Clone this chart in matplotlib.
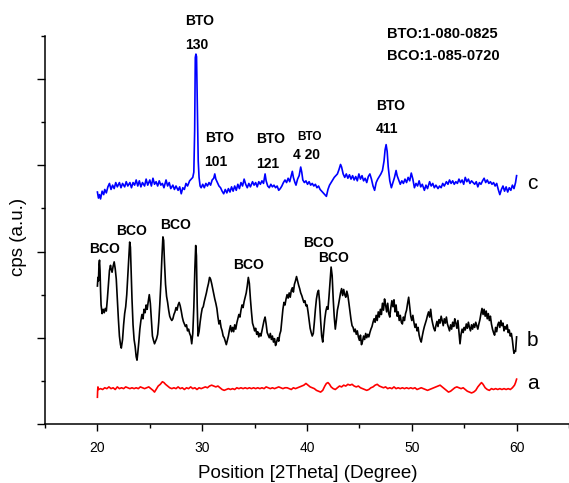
import matplotlib
matplotlib.use("Agg")
import matplotlib.pyplot as plt
from matplotlib.ticker import MultipleLocator

plt.rcParams['font.family'] = ['Liberation Sans', 'DejaVu Sans']

# curva c (azul) - amostra com BTO
theta_c = [20.0, 20.1, 20.2, 20.3, 20.45, 20.6, 20.7, 20.85, 21.0, 21.15, 21.3, 21.45, 21.6, 21.75, 21.9,
           22.1, 22.25, 22.4, 22.6, 22.75, 22.9, 23.1, 23.25, 23.4, 23.55, 23.7, 23.85, 24.0, 24.15, 24.3,
           24.5, 24.65, 24.8, 25.0, 25.15, 25.3, 25.45, 25.6, 25.75, 25.9, 26.05, 26.2, 26.35, 26.55, 26.7,
           26.85, 27.0, 27.2, 27.35, 27.5, 27.7, 27.85, 28.0, 28.15, 28.3, 28.45, 28.6, 28.8, 28.95, 29.1,
           29.2, 29.28, 29.34, 29.4, 29.46, 29.52, 29.56, 29.62, 29.7, 29.8, 29.9, 30.05, 30.2, 30.35, 30.5,
           30.65, 30.8, 30.95, 31.1, 31.2, 31.3, 31.45, 31.6, 31.75, 31.9, 32.05, 32.2, 32.35, 32.5, 32.65,
           32.8, 32.95, 33.1, 33.25, 33.4, 33.55, 33.7, 33.85, 34.0, 34.15, 34.3, 34.45, 34.6, 34.8, 34.95,
           35.1, 35.25, 35.4, 35.55, 35.7, 35.85, 36.0, 36.1, 36.25, 36.4, 36.55, 36.7, 36.85, 37.0, 37.15,
           37.3, 37.45, 37.6, 37.75, 37.9, 38.05, 38.2, 38.35, 38.5, 38.6, 38.7, 38.85, 38.95, 39.1, 39.25,
           39.4, 39.5, 39.6, 39.75, 39.9, 40.05, 40.2, 40.35, 40.5, 40.65, 40.8, 40.95, 41.1, 41.25, 41.4,
           41.55, 41.7, 41.85, 42.0, 42.15, 42.3, 42.45, 42.6, 42.75, 42.9, 43.05, 43.2, 43.3, 43.45, 43.6,
           43.75, 43.9, 44.05, 44.2, 44.35, 44.5, 44.65, 44.8, 44.95, 45.1, 45.25, 45.4, 45.55, 45.7, 45.85,
           46.0, 46.15, 46.3, 46.45, 46.6, 46.75, 46.9, 47.05, 47.2, 47.35, 47.45, 47.55, 47.65, 47.75, 47.9,
           48.05, 48.2, 48.35, 48.5, 48.6, 48.75, 48.9, 49.05, 49.2, 49.35, 49.5, 49.65, 49.8, 49.95, 50.1,
           50.25, 50.4, 50.55, 50.7, 50.85, 51.0, 51.2, 51.35, 51.5, 51.7, 51.85, 52.0, 52.15, 52.3, 52.5,
           52.65, 52.8, 52.95, 53.1, 53.3, 53.45, 53.6, 53.75, 53.9, 54.05, 54.2, 54.35, 54.5, 54.65, 54.8,
           54.95, 55.1, 55.25, 55.4, 55.55, 55.7, 55.85, 56.0, 56.15, 56.3, 56.45, 56.6, 56.75, 56.9, 57.05,
           57.2, 57.35, 57.5, 57.65, 57.8, 57.95, 58.1, 58.25, 58.4, 58.55, 58.7, 58.85, 59.0, 59.15, 59.3,
           59.45, 59.6, 59.75, 59.9, 60.0]
cps_c = [2.69, 2.62, 2.66, 2.61, 2.70, 2.66, 2.72, 2.68, 2.75, 2.79, 2.72, 2.77, 2.73, 2.80, 2.75,
         2.80, 2.74, 2.79, 2.75, 2.81, 2.76, 2.80, 2.74, 2.80, 2.77, 2.83, 2.76, 2.82, 2.75, 2.80,
         2.76, 2.84, 2.77, 2.83, 2.76, 2.85, 2.78, 2.81, 2.76, 2.82, 2.77, 2.79, 2.74, 2.83, 2.76,
         2.80, 2.73, 2.77, 2.72, 2.76, 2.71, 2.75, 2.67, 2.74, 2.72, 2.79, 2.76, 2.82, 2.84, 2.86,
         2.92, 3.40, 4.25, 4.29, 4.26, 3.80, 3.45, 3.05, 2.86, 2.76, 2.74, 2.78, 2.74, 2.79, 2.76,
         2.80, 2.77, 2.83, 2.85, 2.90, 2.84, 2.80, 2.76, 2.74, 2.70, 2.67, 2.72, 2.68, 2.73, 2.69,
         2.75, 2.70, 2.76, 2.71, 2.78, 2.73, 2.80, 2.76, 2.84, 2.78, 2.74, 2.79, 2.75, 2.81, 2.77,
         2.80, 2.75, 2.81, 2.78, 2.82, 2.79, 2.90, 2.82, 2.76, 2.74, 2.78, 2.75, 2.77, 2.74, 2.76,
         2.71, 2.73, 2.76, 2.80, 2.83, 2.80, 2.85, 2.81, 2.88, 2.93, 2.86, 2.80, 2.77, 2.84, 2.88,
         2.98, 2.92, 2.83, 2.80, 2.82, 2.78, 2.81, 2.77, 2.79, 2.76, 2.78, 2.74, 2.76, 2.72, 2.70,
         2.68, 2.66, 2.64, 2.72, 2.77, 2.80, 2.83, 2.86, 2.88, 2.90, 2.95, 3.01, 2.98, 2.90, 2.86,
         2.90, 2.85, 2.89, 2.84, 2.88, 2.83, 2.87, 2.82, 2.90, 2.84, 2.88, 2.82, 2.85, 2.80, 2.87,
         2.90, 2.84, 2.76, 2.71, 2.80, 2.84, 2.87, 2.90, 2.94, 3.05, 3.18, 3.24, 3.16, 2.98, 2.82,
         2.74, 2.80, 2.86, 2.94, 2.88, 2.83, 2.78, 2.82, 2.79, 2.84, 2.80, 2.86, 2.82, 2.91, 2.84,
         2.74, 2.79, 2.76, 2.82, 2.75, 2.78, 2.71, 2.77, 2.73, 2.81, 2.76, 2.79, 2.74, 2.77, 2.73,
         2.76, 2.74, 2.79, 2.76, 2.81, 2.78, 2.83, 2.79, 2.82, 2.78, 2.81, 2.79, 2.84, 2.80, 2.83,
         2.78, 2.86, 2.81, 2.84, 2.79, 2.82, 2.80, 2.78, 2.81, 2.75, 2.80, 2.78, 2.82, 2.85, 2.80,
         2.83, 2.79, 2.81, 2.78, 2.80, 2.76, 2.79, 2.72, 2.66, 2.72, 2.76, 2.70, 2.75, 2.69, 2.74,
         2.71, 2.77, 2.73, 2.80, 2.88]

# curva b (preta) - amostra com BCO
theta_b = [20.0, 20.05, 20.1, 20.15, 20.2, 20.25, 20.3, 20.35, 20.45, 20.55, 20.65, 20.75, 20.85, 20.95,
           21.05, 21.15, 21.25, 21.3, 21.4, 21.5, 21.6, 21.7, 21.8, 21.9, 22.0, 22.1, 22.2, 22.28, 22.4,
           22.5, 22.6, 22.7, 22.8, 22.9, 23.0, 23.08, 23.15, 23.22, 23.3, 23.4, 23.5, 23.6, 23.7, 23.78,
           23.85, 23.95, 24.05, 24.15, 24.25, 24.35, 24.45, 24.55, 24.65, 24.75, 24.85, 24.95, 25.05, 25.15,
           25.25, 25.35, 25.45, 25.55, 25.65, 25.75, 25.85, 25.95, 26.05, 26.15, 26.25, 26.32, 26.4, 26.5,
           26.6, 26.7, 26.8, 26.9, 27.0, 27.1, 27.2, 27.3, 27.4, 27.5, 27.6, 27.7, 27.8, 27.9, 28.0,
           28.1, 28.2, 28.3, 28.4, 28.5, 28.6, 28.7, 28.8, 28.9, 29.0, 29.1, 29.2, 29.3, 29.38, 29.45,
           29.52, 29.6, 29.7, 29.8, 29.9, 30.0, 30.1, 30.2, 30.3, 30.4, 30.5, 30.6, 30.7, 30.8, 30.9,
           31.0, 31.1, 31.2, 31.3, 31.4, 31.5, 31.6, 31.7, 31.8, 31.9, 32.0, 32.1, 32.2, 32.3, 32.4,
           32.5, 32.6, 32.7, 32.8, 32.9, 33.0, 33.1, 33.2, 33.3, 33.4, 33.5, 33.6, 33.7, 33.8, 33.9,
           34.0, 34.1, 34.2, 34.3, 34.4, 34.5, 34.6, 34.7, 34.8, 34.9, 35.0, 35.1, 35.2, 35.3, 35.4,
           35.5, 35.6, 35.7, 35.8, 35.9, 36.0, 36.1, 36.2, 36.3, 36.4, 36.5, 36.6, 36.7, 36.8, 36.9,
           37.0, 37.1, 37.2, 37.3, 37.4, 37.5, 37.6, 37.7, 37.8, 37.9, 38.0, 38.1, 38.2, 38.3, 38.4,
           38.5, 38.6, 38.7, 38.8, 38.9, 39.0, 39.1, 39.2, 39.3, 39.4, 39.5, 39.6, 39.7, 39.8, 39.9,
           40.0, 40.1, 40.2, 40.3, 40.4, 40.5, 40.6, 40.7, 40.8, 40.9, 41.0, 41.1, 41.2, 41.3, 41.4,
           41.5, 41.6, 41.7, 41.8, 41.9, 42.0, 42.1, 42.2, 42.3, 42.4, 42.5, 42.6, 42.7, 42.8, 42.9,
           43.0, 43.1, 43.2, 43.3, 43.4, 43.5, 43.6, 43.7, 43.8, 43.9, 44.0, 44.1, 44.2, 44.3, 44.4,
           44.5, 44.6, 44.7, 44.8, 44.9, 45.0, 45.1, 45.2, 45.3, 45.4, 45.5, 45.6, 45.7, 45.8, 45.9,
           46.0, 46.1, 46.2, 46.3, 46.4, 46.5, 46.6, 46.7, 46.8, 46.9, 47.0, 47.1, 47.2, 47.3, 47.4,
           47.5, 47.6, 47.7, 47.8, 47.9, 48.0, 48.1, 48.2, 48.3, 48.4, 48.5, 48.6, 48.7, 48.8, 48.9,
           49.0, 49.1, 49.2, 49.3, 49.4, 49.5, 49.6, 49.7, 49.8, 49.9, 50.0, 50.1, 50.2, 50.3, 50.4,
           50.5, 50.6, 50.7, 50.8, 50.9, 51.0, 51.1, 51.2, 51.3, 51.4, 51.5, 51.6, 51.7, 51.8, 51.9,
           52.0, 52.1, 52.2, 52.3, 52.4, 52.5, 52.6, 52.7, 52.8, 52.9, 53.0, 53.1, 53.2, 53.3, 53.4,
           53.5, 53.6, 53.7, 53.8, 53.9, 54.0, 54.1, 54.2, 54.3, 54.4, 54.5, 54.6, 54.7, 54.8, 54.9,
           55.0, 55.1, 55.2, 55.3, 55.4, 55.5, 55.6, 55.7, 55.8, 55.9, 56.0, 56.1, 56.2, 56.3, 56.4,
           56.5, 56.6, 56.7, 56.8, 56.9, 57.0, 57.1, 57.2, 57.3, 57.4, 57.5, 57.6, 57.7, 57.8, 57.9,
           58.0, 58.1, 58.2, 58.3, 58.4, 58.5, 58.6, 58.7, 58.8, 58.9, 59.0, 59.1, 59.2, 59.3, 59.4,
           59.5, 59.6, 59.7, 59.75, 59.8, 59.9, 60.0]
cps_b = [1.60, 1.70, 1.66, 1.85, 1.90, 1.78, 1.55, 1.38, 1.28, 1.33, 1.29, 1.34, 1.31, 1.45,
         1.62, 1.78, 1.84, 1.80, 1.76, 1.83, 1.88, 1.80, 1.68, 1.45, 1.22, 1.02, 0.92, 0.88, 0.98,
         1.15, 1.28, 1.36, 1.50, 1.72, 1.95, 2.11, 2.05, 1.78, 1.45, 1.15, 0.98, 0.90, 0.78, 0.74,
         0.82, 0.95, 1.10, 1.20, 1.27, 1.22, 1.33, 1.29, 1.38, 1.33, 1.42, 1.50, 1.40, 1.20,
         1.02, 0.97, 0.93, 0.96, 0.99, 1.04, 1.18, 1.38, 1.62, 1.92, 2.17, 2.13, 1.88, 1.62,
         1.48, 1.41, 1.32, 1.25, 1.22, 1.20, 1.22, 1.27, 1.30, 1.35, 1.32, 1.38, 1.41, 1.37, 1.31,
         1.24, 1.19, 1.16, 1.13, 1.15, 1.08, 1.10, 1.05, 1.02, 0.93, 1.05, 1.35, 1.80, 2.07, 1.95,
         1.40, 1.02, 1.07, 1.18, 1.27, 1.34, 1.36, 1.42, 1.47, 1.52, 1.58, 1.63, 1.70, 1.68, 1.63,
         1.57, 1.51, 1.45, 1.40, 1.34, 1.24, 1.16, 1.20, 1.12, 1.08, 1.02, 1.00, 0.96, 0.92, 0.97,
         1.02, 1.09, 1.14, 1.07, 1.12, 1.07, 1.15, 1.10, 1.17, 1.22, 1.27, 1.24, 1.32, 1.38, 1.35,
         1.42, 1.47, 1.52, 1.60, 1.70, 1.63, 1.45, 1.30, 1.17, 1.13, 1.08, 1.11, 1.04, 1.07, 1.01,
         1.05, 1.02, 1.08, 1.14, 1.20, 1.24, 1.16, 1.06, 1.03, 1.00, 1.05, 0.98, 1.02, 0.95, 0.99,
         0.91, 0.95, 1.00, 0.96, 1.04, 1.08, 1.20, 1.33, 1.41, 1.38, 1.45, 1.50, 1.46, 1.52, 1.47,
         1.55, 1.58, 1.53, 1.62, 1.66, 1.71, 1.66, 1.61, 1.57, 1.52, 1.49, 1.45, 1.41, 1.43, 1.37,
         1.38, 1.30, 1.20, 1.11, 1.06, 1.02, 1.05, 1.18, 1.33, 1.45, 1.52, 1.55, 1.42, 1.20, 1.02,
         0.95, 1.08, 1.22, 1.31, 1.36, 1.33, 1.48, 1.65, 1.82, 1.72, 1.45, 1.24, 1.10, 1.20, 1.32,
         1.38, 1.45, 1.52, 1.57, 1.49, 1.56, 1.50, 1.47, 1.54, 1.49, 1.40, 1.30, 1.21, 1.14, 1.12,
         1.07, 1.10, 1.04, 1.08, 1.01, 0.97, 1.03, 0.92, 0.96, 1.02, 0.98, 1.05, 1.00, 1.04, 1.01,
         1.06, 1.10, 1.13, 1.18, 1.22, 1.18, 1.26, 1.20, 1.30, 1.24, 1.33, 1.27, 1.40, 1.32, 1.45,
         1.38, 1.30, 1.40, 1.28, 1.24, 1.35, 1.43, 1.36, 1.44, 1.30, 1.38, 1.25, 1.30, 1.20, 1.26,
         1.18, 1.16, 1.24, 1.20, 1.28, 1.32, 1.40, 1.47, 1.36, 1.25, 1.20, 1.26, 1.18, 1.12, 1.16,
         1.08, 1.12, 1.03, 0.98, 0.95, 1.02, 1.08, 1.13, 1.17, 1.21, 1.26, 1.30, 1.24, 1.33, 1.22,
         1.16, 1.11, 1.08, 1.14, 1.19, 1.13, 1.21, 1.17, 1.25, 1.20, 1.14, 1.22, 1.17, 1.24, 1.16,
         1.12, 1.08, 1.15, 1.10, 1.18, 1.13, 1.22, 1.17, 1.11, 1.20, 1.06, 0.93, 1.04, 1.10, 1.06,
         1.12, 1.09, 1.16, 1.11, 1.18, 1.12, 1.08, 1.15, 1.10, 1.16, 1.12, 1.18, 1.14, 1.10, 1.16,
         1.21, 1.28, 1.34, 1.27, 1.33, 1.25, 1.31, 1.22, 1.28, 1.20, 1.25, 1.16, 1.10, 1.06, 1.03,
         1.12, 1.07, 1.15, 1.18, 1.12, 1.20, 1.14, 1.17, 1.08, 1.13, 1.10, 1.15, 1.06, 1.09, 1.02,
         1.05, 0.97, 0.86, 0.82, 0.85, 0.84, 1.01]

# curva a (vermelha) - amostra sem picos
theta_a = [20.0, 20.02, 20.05, 20.1, 20.3, 20.5, 20.7, 20.9, 21.1, 21.3, 21.5, 21.7, 21.9, 22.1, 22.3,
           22.5, 22.7, 22.9, 23.1, 23.3, 23.5, 23.7, 23.9, 24.1, 24.3, 24.5, 24.7, 24.9, 25.1, 25.3,
           25.45, 25.6, 25.8, 26.0, 26.2, 26.35, 26.5, 26.7, 26.9, 27.1, 27.3, 27.5, 27.7, 27.9, 28.1,
           28.3, 28.5, 28.7, 28.9, 29.1, 29.3, 29.5, 29.7, 29.9, 30.1, 30.3, 30.5, 30.7, 30.9, 31.1,
           31.3, 31.5, 31.7, 31.9, 32.1, 32.3, 32.5, 32.7, 32.9, 33.1, 33.3, 33.5, 33.7, 33.9, 34.1,
           34.3, 34.5, 34.7, 34.9, 35.1, 35.3, 35.5, 35.7, 35.9, 36.1, 36.3, 36.5, 36.7, 36.9, 37.1,
           37.3, 37.5, 37.7, 37.9, 38.1, 38.3, 38.5, 38.7, 38.9, 39.1, 39.3, 39.5, 39.7, 39.9, 40.1,
           40.3, 40.5, 40.7, 40.9, 41.1, 41.3, 41.5, 41.7, 41.85, 42.0, 42.15, 42.3, 42.5, 42.7, 42.9,
           43.1, 43.3, 43.5, 43.7, 43.9, 44.1, 44.3, 44.5, 44.7, 44.9, 45.1, 45.3, 45.5, 45.7, 45.9,
           46.1, 46.3, 46.5, 46.7, 46.9, 47.1, 47.3, 47.5, 47.7, 47.9, 48.1, 48.3, 48.5, 48.7, 48.9,
           49.1, 49.3, 49.5, 49.7, 49.9, 50.1, 50.3, 50.5, 50.7, 50.9, 51.1, 51.3, 51.5, 51.7, 51.9,
           52.1, 52.3, 52.5, 52.7, 52.9, 53.1, 53.3, 53.5, 53.7, 53.9, 54.1, 54.3, 54.5, 54.7, 54.9,
           55.1, 55.3, 55.5, 55.7, 55.9, 56.1, 56.3, 56.5, 56.65, 56.8, 57.0, 57.2, 57.4, 57.6, 57.8,
           58.0, 58.2, 58.4, 58.6, 58.8, 59.0, 59.2, 59.4, 59.6, 59.8, 59.9, 60.0]
cps_a = [0.31, 0.38, 0.43, 0.40, 0.41, 0.40, 0.42, 0.41, 0.43, 0.41, 0.42, 0.40, 0.43, 0.41, 0.42,
         0.41, 0.43, 0.42, 0.41, 0.42, 0.41, 0.42, 0.41, 0.43, 0.42, 0.41, 0.42, 0.43, 0.41, 0.39,
         0.37, 0.40, 0.44, 0.46, 0.49, 0.48, 0.46, 0.44, 0.42, 0.41, 0.42, 0.41, 0.43, 0.41, 0.42,
         0.40, 0.42, 0.41, 0.43, 0.41, 0.42, 0.40, 0.42, 0.41, 0.42, 0.43, 0.42, 0.44, 0.45, 0.44,
         0.43, 0.44, 0.42, 0.40, 0.39, 0.40, 0.41, 0.40, 0.41, 0.40, 0.42, 0.41, 0.42, 0.41, 0.42,
         0.41, 0.42, 0.41, 0.42, 0.41, 0.42, 0.41, 0.42, 0.41, 0.43, 0.42, 0.41, 0.42, 0.41, 0.42,
         0.43, 0.42, 0.41, 0.42, 0.42, 0.41, 0.40, 0.42, 0.41, 0.42, 0.43, 0.44, 0.45, 0.47, 0.45,
         0.43, 0.42, 0.41, 0.39, 0.38, 0.37, 0.39, 0.44, 0.47, 0.48, 0.46, 0.43, 0.41, 0.40, 0.42,
         0.44, 0.43, 0.45, 0.44, 0.46, 0.45, 0.46, 0.44, 0.43, 0.44, 0.42, 0.41, 0.40, 0.39, 0.40,
         0.42, 0.43, 0.45, 0.46, 0.44, 0.43, 0.42, 0.43, 0.41, 0.42, 0.41, 0.43, 0.41, 0.42, 0.41,
         0.42, 0.41, 0.42, 0.41, 0.42, 0.41, 0.42, 0.40, 0.41, 0.42, 0.41, 0.40, 0.39, 0.40, 0.41,
         0.42, 0.43, 0.44, 0.45, 0.43, 0.41, 0.39, 0.37, 0.38, 0.40, 0.42, 0.43, 0.42, 0.41, 0.42,
         0.40, 0.38, 0.37, 0.36, 0.37, 0.39, 0.43, 0.46, 0.48, 0.46, 0.42, 0.40, 0.39, 0.41, 0.40,
         0.41, 0.40, 0.41, 0.40, 0.41, 0.40, 0.41, 0.40, 0.42, 0.45, 0.48, 0.52]

# rótulos dos picos: (texto, x, y, tamanho)
rotulos_bto = [('BTO', 29.74, 4.67, 10), ('130', 29.45, 4.40, 10),
               ('BTO', 31.65, 3.32, 10), ('101', 31.3, 3.04, 10),
               ('BTO', 36.5, 3.31, 10), ('121', 36.23, 3.02, 10),
               ('BTO', 40.24, 3.33, 8.5), ('4 20', 39.97, 3.12, 10),
               ('BTO', 48.0, 3.69, 10), ('411', 47.66, 3.42, 10)]
rotulos_bco_x = [20.67, 23.25, 27.45, 34.4, 41.1, 42.53]
rotulos_bco_y = [2.03, 2.24, 2.31, 1.84, 2.10, 1.93]
fichas = ['BTO:1-080-0825', 'BCO:1-085-0720']
nomes_curvas = ['c', 'b', 'a']

fig = plt.figure(figsize=(5.69, 4.83), dpi=100)
ax = fig.add_axes([0.0791, 0.1222, 0.9209, 0.8033])

ax.plot(theta_c, cps_c, color='#0000FF', lw=1.2)
ax.plot(theta_b, cps_b, color='black', lw=1.2)
ax.plot(theta_a, cps_a, color='#FF0000', lw=1.2)

for txt, x, y, fs in rotulos_bto:
    ax.text(x, y, txt, ha='center', va='center', fontsize=fs, fontweight='bold')
for x, y in zip(rotulos_bco_x, rotulos_bco_y):
    ax.text(x, y, 'BCO', ha='center', va='center', fontsize=10, fontweight='bold')
ax.text(47.68, 4.52, fichas[0], ha='left', va='center', fontsize=10.5, fontweight='bold')
ax.text(47.68, 4.27, fichas[1], ha='left', va='center', fontsize=10.5, fontweight='bold')

# letras das curvas ao lado do fim de cada uma
for nome, y in zip(nomes_curvas, [2.79, 0.97, 0.47]):
    ax.text(61.0, y, nome, ha='left', va='center', fontsize=15)

ax.set_xlim(15, 65)
ax.set_ylim(0, 4.5)
ax.xaxis.set_minor_locator(MultipleLocator(5))
ax.yaxis.set_major_locator(MultipleLocator(1))
ax.yaxis.set_minor_locator(MultipleLocator(0.5))
ax.set_xticks([20, 30, 40, 50, 60])
ax.set_yticklabels([])
ax.tick_params(axis='x', which='major', direction='out', length=5, width=1, labelsize=10, pad=7)
ax.tick_params(axis='x', which='minor', direction='out', length=3, width=1)
ax.tick_params(axis='y', which='major', direction='out', length=6, width=1)
ax.tick_params(axis='y', which='minor', direction='out', length=3, width=1)
ax.spines['top'].set_visible(False)
ax.spines['right'].set_visible(False)
ax.spines['left'].set_linewidth(1.1)
ax.spines['bottom'].set_linewidth(1.1)

ax.set_xlabel('Position [2Theta] (Degree)', fontsize=13.5)
ax.set_ylabel('cps (a.u.)', fontsize=13.5)
ax.xaxis.set_label_coords(0.502, -0.105)
ax.yaxis.set_label_coords(-0.035, 0.482)

fig.savefig('out.png', dpi=100)
